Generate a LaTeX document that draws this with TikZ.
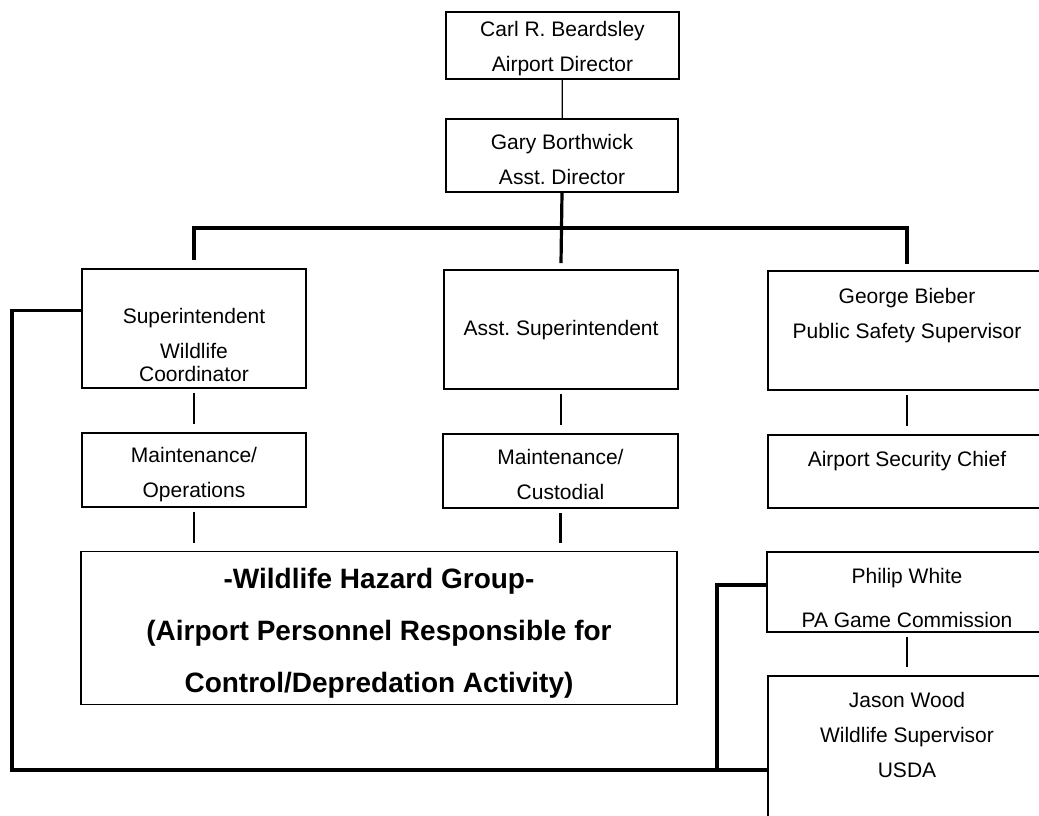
\documentclass[tikz,border=0pt]{standalone}
\usepackage{fontspec}
\setmainfont{Liberation Sans}
\frenchspacing
\newcommand{\padtop}[1]{\rule{0pt}{#1pt}}
\newcommand{\padbot}[1]{\rule[-#1pt]{0pt}{0pt}}
\begin{document}
\begin{tikzpicture}
[x=1pt,y=-1pt,
 boxdecorate/.style={shape=rectangle,inner sep=0pt,draw,line width=1.6pt,align=center,
   font=\fontsize{21}{35}\selectfont},
 hazarddecorate/.style={boxdecorate,font=\fontsize{28}{52}\selectfont\bfseries},
 linedecorate/.style={-,line width=2.6pt,shorten <=4pt,shorten >=8pt},
 loopdecorate/.style={-,line width=3.2pt}]
\useasboundingbox (0,0) rectangle (1039,816);
\clip (0,0) rectangle (1039,816);
%% nodes or vertices
\node (carl) at (562.5,45.5) [boxdecorate,minimum width=233pt,minimum height=67pt]
  {\padtop{22}Carl R. Beardsley\\Airport Director};
\node (gary) at (562,155.5) [boxdecorate,minimum width=232pt,minimum height=73pt]
  {\padtop{24}Gary Borthwick\\Asst. Director};
\node (sup) at (194,328.5) [boxdecorate,minimum width=224pt,minimum height=119pt]
  {\padtop{49}Superintendent\\Wildlife\\[-12pt]Coordinator};
\node (asst) at (561,329.5) [boxdecorate,minimum width=234pt,minimum height=119pt]
  {\padtop{17}Asst. Superintendent};
\node (george) at (907,330.5) [boxdecorate,minimum width=278pt,minimum height=119pt]
  {George Bieber\\Public Safety Supervisor\padbot{35}};
\node (ops) at (194,470) [boxdecorate,minimum width=224pt,minimum height=74pt]
  {\padtop{25}Maintenance/\\Operations};
\node (cust) at (560.5,471) [boxdecorate,minimum width=235pt,minimum height=74pt]
  {\padtop{23}Maintenance/\\Custodial};
\node (sec) at (907,471.5) [boxdecorate,minimum width=278pt,minimum height=73pt]
  {Airport Security Chief\padbot{26}};
\node (haz) at (379,628) [hazarddecorate,minimum width=596pt,minimum height=153pt]
  {\padtop{30}-Wildlife Hazard Group-\\(Airport Personnel Responsible for\\Control/Depredation Activity)};
\node (philip) at (907,592) [boxdecorate,minimum width=280pt,minimum height=80pt]
  {\padtop{28}Philip White\\[9pt]PA Game Commission};
\node (jason) at (907,788) [boxdecorate,minimum width=278pt,minimum height=224pt]
  {Jason Wood\\Wildlife Supervisor\\USDA\padbot{107}};
\coordinate (hub) at (564,228);
\coordinate (corner) at (12,770);
\coordinate (join) at (717,770);
%% edges or lines
\draw[line width=1.3pt] (carl) -- (gary);
\draw[loopdecorate] (gary.south) -- ([yshift=6pt]asst.north);
\draw[loopdecorate] ([yshift=8pt]sup.north) |- (hub) -| ([yshift=6pt]george.north);
\path
\foreach \startnode/\endnode in {sup/ops, asst/cust, george/sec,
 ops/haz, cust/haz, philip/jason}
{
  (\startnode.south) edge[linedecorate] (\startnode.south |- \endnode.north)
};
\draw[loopdecorate] ([yshift=18pt]sup.west) -| (corner) -- (corner -| jason.west);
\draw[loopdecorate] ([yshift=7pt]philip.west) -| (join);
\end{tikzpicture}
\end{document}
